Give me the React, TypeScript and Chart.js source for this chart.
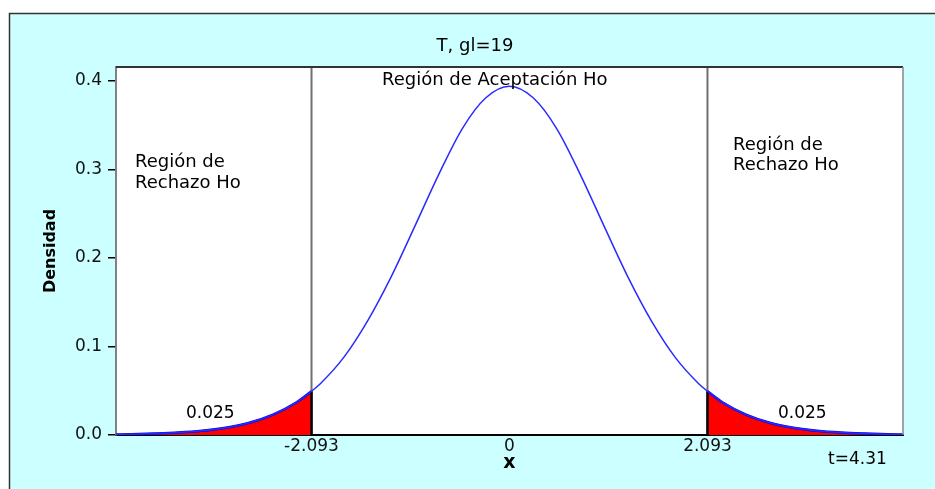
import React, { useEffect, useRef } from 'react';
import { Chart, registerables } from 'chart.js';

Chart.register(...registerables);

// ---- data ----
const tValues = [-4.16, -4, -3.75, -3.5, -3.25, -3, -2.75, -2.5, -2.25, -2.093, -2, -1.75, -1.5, -1.25, -1, -0.75, -0.5, -0.25, 0, 0.25, 0.5, 0.75, 1, 1.25, 1.5, 1.75, 2, 2.093, 2.25, 2.5, 2.75, 3, 3.25, 3.5, 3.75, 4, 4.16];
const density = [0.0006, 0.0009, 0.0016, 0.0027, 0.0047, 0.0082, 0.0138, 0.023, 0.037, 0.0495, 0.058, 0.088, 0.129, 0.179, 0.236, 0.294, 0.346, 0.381, 0.394, 0.381, 0.346, 0.294, 0.236, 0.179, 0.129, 0.088, 0.058, 0.0495, 0.037, 0.023, 0.0138, 0.0082, 0.0047, 0.0027, 0.0016, 0.0009, 0.0006];
const criticalValues = [-2.093, 2.093];
const criticalDensity = 0.0495;
const tailAreaLabels = ['0.025', '0.025'];
const xTickValues = [-2.093, 0, 2.093];
const xTickLabels = ['-2.093', '0', '2.093'];
const yTickValues = [0, 0.1, 0.2, 0.3, 0.4];
const yTickLabels = ['0.0', '0.1', '0.2', '0.3', '0.4'];
const xMin = -4.16;
const xMax = 4.16;
const yMax = 0.4158;
const chartTitle = 'T, gl=19';
const acceptLabel = 'Región de Aceptación Ho';
const rejectLabel = ['Región de', 'Rechazo Ho'];
const statLabel = 't=4.31';
const yTitle = 'Densidad';
const xTitle = 'x';

const FONT = "'DejaVu Sans', Verdana, sans-serif";

export default function App() {
  const ref = useRef<HTMLCanvasElement | null>(null);

  useEffect(() => {
    const canvas = ref.current;
    if (!canvas) return;

    const pts = tValues.map((x, i) => ({ x, y: density[i] }));
    const leftTail = pts.filter((p) => p.x <= criticalValues[0]);
    const rightTail = pts.filter((p) => p.x >= criticalValues[1]);

    const background = {
      id: 'background',
      beforeDraw(chart: any) {
        const { ctx, width, height, chartArea } = chart;
        ctx.save();
        ctx.fillStyle = '#ffffff';
        ctx.fillRect(0, 0, width, height);
        ctx.fillStyle = '#CCFFFF';
        ctx.fillRect(9, 13, width, height);
        ctx.strokeStyle = '#333333';
        ctx.lineWidth = 1.5;
        ctx.strokeRect(9.5, 13.5, width + 20, height + 20);
        ctx.fillStyle = '#ffffff';
        ctx.fillRect(chartArea.left, chartArea.top, chartArea.right - chartArea.left, chartArea.bottom - chartArea.top);
        ctx.restore();
      },
    };

    const annotations = {
      id: 'annotations',
      afterDraw(chart: any) {
        const { ctx, chartArea } = chart;
        ctx.save();
        // plot frame top / right
        ctx.strokeStyle = '#333333';
        ctx.lineWidth = 2;
        ctx.beginPath();
        ctx.moveTo(chartArea.left, chartArea.top);
        ctx.lineTo(chartArea.right, chartArea.top);
        ctx.stroke();
        ctx.strokeStyle = '#888888';
        ctx.lineWidth = 1.5;
        ctx.beginPath();
        ctx.moveTo(chartArea.right, chartArea.top);
        ctx.lineTo(chartArea.right, chartArea.bottom);
        ctx.stroke();

        ctx.fillStyle = '#000000';
        ctx.textBaseline = 'alphabetic';
        ctx.textAlign = 'center';
        ctx.font = `18px ${FONT}`;
        ctx.fillText(chartTitle, 475, 51);

        ctx.textAlign = 'left';
        ctx.fillText(acceptLabel, 382, 85);
        ctx.fillText(rejectLabel[0], 135, 167);
        ctx.fillText(rejectLabel[1], 135, 188);
        ctx.fillText(rejectLabel[0], 733, 150);
        ctx.fillText(rejectLabel[1], 733, 170);

        ctx.font = `17px ${FONT}`;
        ctx.fillText(tailAreaLabels[0], 186, 418);
        ctx.fillText(tailAreaLabels[1], 778, 418);
        ctx.fillText(statLabel, 828, 464);
        ctx.restore();
      },
    };

    const chart = new Chart(canvas, {
      type: 'line',
      data: {
        datasets: [
          {
            label: 'curve',
            data: pts,
            borderColor: '#2a2aff',
            borderWidth: 1.5,
            pointRadius: 0,
            fill: false,
            cubicInterpolationMode: 'monotone',
          },
          {
            label: 'edgeL',
            data: [{ x: criticalValues[0], y: 0 }, { x: criticalValues[0], y: criticalDensity }],
            borderColor: '#000000',
            borderWidth: 2.5,
            pointRadius: 0,
            fill: false,
          },
          {
            label: 'edgeR',
            data: [{ x: criticalValues[1], y: 0 }, { x: criticalValues[1], y: criticalDensity }],
            borderColor: '#000000',
            borderWidth: 2.5,
            pointRadius: 0,
            fill: false,
          },
          {
            label: 'tailL',
            data: leftTail,
            borderColor: '#0000dd',
            borderWidth: 2.5,
            backgroundColor: '#ff0000',
            pointRadius: 0,
            fill: 'origin',
            cubicInterpolationMode: 'monotone',
          },
          {
            label: 'tailR',
            data: rightTail,
            borderColor: '#0000dd',
            borderWidth: 2.5,
            backgroundColor: '#ff0000',
            pointRadius: 0,
            fill: 'origin',
            cubicInterpolationMode: 'monotone',
          },
          {
            label: 'critL',
            data: [{ x: criticalValues[0], y: 0 }, { x: criticalValues[0], y: yMax }],
            borderColor: '#707070',
            borderWidth: 2,
            pointRadius: 0,
            fill: false,
          },
          {
            label: 'critR',
            data: [{ x: criticalValues[1], y: 0 }, { x: criticalValues[1], y: yMax }],
            borderColor: '#707070',
            borderWidth: 2,
            pointRadius: 0,
            fill: false,
          },
        ] as any,
      },
      options: {
        responsive: false,
        animation: false,
        events: [],
        layout: { padding: { top: 67, right: 32, left: 0, bottom: 0 } },
        plugins: {
          legend: { display: false },
          tooltip: { enabled: false },
          title: { display: false },
        },
        scales: {
          x: {
            type: 'linear',
            min: xMin,
            max: xMax,
            afterFit: (s: any) => { s.height = 54; },
            afterBuildTicks: (s: any) => { s.ticks = xTickValues.map((v) => ({ value: v })); },
            ticks: {
              color: '#111111',
              font: { family: FONT, size: 17 },
              padding: 1,
              maxRotation: 0,
              autoSkip: false,
              callback: (v: any) => {
                const i = xTickValues.indexOf(Number(v));
                return i >= 0 ? xTickLabels[i] : '';
              },
            },
            grid: { display: true, drawOnChartArea: false, drawTicks: false, color: '#000000' },
            border: { display: true, color: '#000000', width: 2 },
            title: {
              display: true,
              text: xTitle,
              color: '#000000',
              font: { family: FONT, size: 19, weight: 'bold' },
              padding: { top: 0, bottom: 15 },
            },
          },
          y: {
            type: 'linear',
            min: 0,
            max: yMax,
            afterFit: (s: any) => { s.width = 116; },
            afterBuildTicks: (s: any) => { s.ticks = yTickValues.map((v) => ({ value: v })); },
            ticks: {
              color: '#111111',
              font: { family: FONT, size: 17 },
              padding: 6,
              autoSkip: false,
              callback: (v: any) => {
                const i = yTickValues.findIndex((t) => Math.abs(t - Number(v)) < 1e-9);
                return i >= 0 ? yTickLabels[i] : '';
              },
            },
            grid: { display: true, drawOnChartArea: false, drawTicks: true, tickLength: 8, color: '#000000', lineWidth: 1.5 },
            border: { display: true, color: '#808080', width: 2 },
            title: {
              display: true,
              text: yTitle,
              color: '#000000',
              font: { family: FONT, size: 16, weight: 'bold' },
              padding: { top: 41, bottom: 0 },
            },
          },
        },
      } as any,
      plugins: [background, annotations],
    });

    return () => chart.destroy();
  }, []);

  return (
    <div style={{ position: 'absolute', left: 0, top: 0, width: 935, height: 489 }}>
      <canvas ref={ref} width={935} height={489} />
    </div>
  );
}
